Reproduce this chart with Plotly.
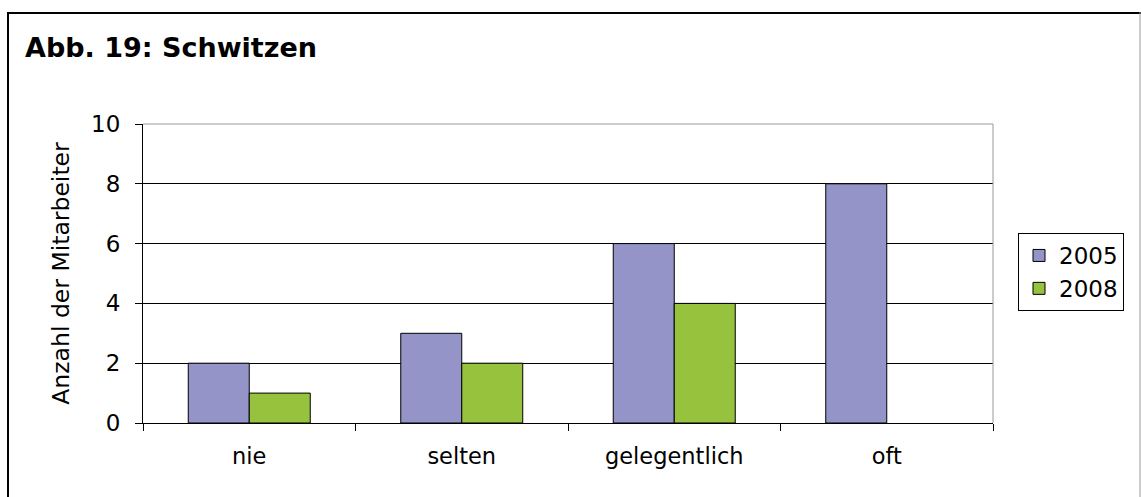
import plotly.graph_objects as go

categories = ["nie", "selten", "gelegentlich", "oft"]
values_2005 = [2, 3, 6, 8]
values_2008 = [1, 2, 4, None]
series_names = ["2005", "2008"]
y_ticks = [0, 2, 4, 6, 8, 10]

W, H = 1141, 497
L, R, T, B = 143, 148, 124, 74
PW, PH = W - L - R, H - T - B

def px_x(p):
    return (p - L) / PW

def px_y(p):
    return (H - B - p) / PH

FONT = "DejaVu Sans, Verdana, sans-serif"

fig = go.Figure()
fig.add_trace(go.Bar(x=categories, y=values_2005, name=series_names[0],
                     marker=dict(color="#9494C8", line=dict(color="black", width=1))))
fig.add_trace(go.Bar(x=categories, y=values_2008, name=series_names[1],
                     marker=dict(color="#96C23E", line=dict(color="black", width=1))))

fig.update_layout(
    width=W, height=H,
    margin=dict(l=L, r=R, t=T, b=B),
    paper_bgcolor="white", plot_bgcolor="white",
    barmode="group", bargap=0.426, bargroupgap=0,
    font=dict(family=FONT, color="black", size=22),
    title=dict(text="<b>Abb. 19: Schwitzen</b>", x=25 / W, xanchor="left",
               xref="container", yref="container", y=1 - 48 / H, yanchor="middle",
               font=dict(size=27, family=FONT, color="black")),
    legend=dict(x=px_x(1018), xanchor="left", y=px_y(233), yanchor="top",
                bordercolor="black", borderwidth=1, bgcolor="white",
                font=dict(size=23, family=FONT, color="black"),
                itemwidth=30, tracegroupgap=0),
    showlegend=True,
)

fig.update_xaxes(
    showline=True, linecolor="black", linewidth=1,
    ticks="outside", tickson="boundaries", ticklen=7, tickcolor="black", tickwidth=1,
    showgrid=False, ticklabelstandoff=13,
    tickfont=dict(size=22.5, family=FONT, color="black"),
)
fig.update_yaxes(
    range=[0, 10], tickvals=y_ticks,
    showline=True, linecolor="black", linewidth=1,
    ticks="outside", ticklen=7, tickcolor="black", tickwidth=1,
    showgrid=True, gridcolor="black", gridwidth=1, zeroline=False,
    ticklabelstandoff=10,
    tickfont=dict(size=23, family=FONT, color="black"),
    title=dict(text="Anzahl der Mitarbeiter", standoff=14,
               font=dict(size=23.5, family=FONT, color="black")),
)

# plot-area top and right borders (gray)
fig.add_shape(type="line", xref="paper", yref="paper", x0=0, x1=1, y0=1, y1=1,
              line=dict(color="#999999", width=1))
fig.add_shape(type="line", xref="paper", yref="paper", x0=1, x1=1, y0=0, y1=1,
              line=dict(color="#999999", width=1))
# outer chart border
fig.add_shape(type="line", xref="paper", yref="paper",
              x0=px_x(8), x1=px_x(8), y0=px_y(12), y1=px_y(500),
              line=dict(color="black", width=2))
fig.add_shape(type="line", xref="paper", yref="paper",
              x0=px_x(8), x1=px_x(1141), y0=px_y(13), y1=px_y(13),
              line=dict(color="black", width=2))
fig.add_shape(type="line", xref="paper", yref="paper",
              x0=px_x(1140), x1=px_x(1140), y0=px_y(12), y1=px_y(500),
              line=dict(color="#999999", width=1))

fig.write_html("out.html")
